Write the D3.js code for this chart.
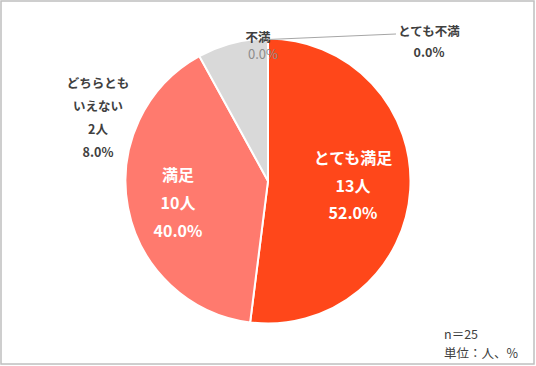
<!DOCTYPE html>
<html><head><meta charset="utf-8">
<script src="https://cdn.jsdelivr.net/npm/d3@7"></script>
<style>
html,body{margin:0;padding:0;background:#fff;}
svg{display:block;font-family:"Noto Sans CJK JP","Noto Sans",sans-serif;}
</style></head>
<body>
<svg id="c" width="536" height="366"></svg>
<script>
const categories = ["とても満足","満足","どちらともいえない","不満","とても不満"];
const counts = [13,10,2,0,0];
const percents = [52.0,40.0,8.0,0.0,0.0];
const colors = ["#FF471A","#FF7A6E","#D9D9D9","#A6A6A6","#7F7F7F"];

const svg = d3.select("#c");
svg.append("rect").attr("x",1).attr("y",1).attr("width",533).attr("height",363)
  .attr("fill","#fff").attr("stroke","#BFBFBF").attr("stroke-width",1.5);

const cx = 268, cy = 181, r = 142.5;
const g = svg.append("g").attr("transform",`translate(${cx},${cy})`);
const data = categories.map((c,i)=>({cat:c,count:counts[i],pct:percents[i],color:colors[i]}));
const pie = d3.pie().sort(null).value(d=>d.pct);
const arcs = pie(data);
const arc = d3.arc().innerRadius(0).outerRadius(r);
g.selectAll("path").data(arcs.filter(a=>a.data.pct>0)).join("path")
  .attr("d",arc).attr("fill",d=>d.data.color).attr("stroke","#fff").attr("stroke-width",2);

function label(x,y,lines,opts){
  const t = svg.append("text").attr("text-anchor","middle")
    .attr("font-size",opts.size).attr("font-weight",opts.weight||"bold").attr("fill",opts.fill);
  lines.forEach((l,i)=>t.append("tspan").attr("x",x).attr("y",y+i*opts.lh).text(l));
}
const fmt = d=>d.toFixed(1)+"%";
// inside labels
label(353,164,[data[0].cat, data[0].count+"人", fmt(data[0].pct)],{size:16,fill:"#fff",lh:27.5});
label(178,181,[data[1].cat, data[1].count+"人", fmt(data[1].pct)],{size:16,fill:"#fff",lh:28});
// outside label for どちらとも
label(98,88,["どちらとも","いえない", data[2].count+"人", fmt(data[2].pct)],{size:12.5,fill:"#404040",lh:23});
// 不満
label(258,42,[data[3].cat],{size:12.5,fill:"#404040",lh:20});
label(263,59,[fmt(data[3].pct)],{size:13,weight:"normal",fill:"#8C8C8C",lh:20});
// とても不満 with leader
svg.append("line").attr("x1",cx).attr("y1",cy-r+1).attr("x2",396).attr("y2",34)
  .attr("stroke","#A6A6A6").attr("stroke-width",1.2);
label(429,36,[data[4].cat],{size:12.5,fill:"#404040",lh:20});
label(429,57,[fmt(data[4].pct)],{size:12.5,fill:"#404040",lh:20});
// note
svg.append("text").attr("font-size",12.5).attr("fill","#404040").attr("x",444).attr("y",339).text("n＝25");
svg.append("text").attr("font-size",12.5).attr("fill","#404040").attr("x",444).attr("y",357.5).text("単位：人、%");
</script>
</body></html>
